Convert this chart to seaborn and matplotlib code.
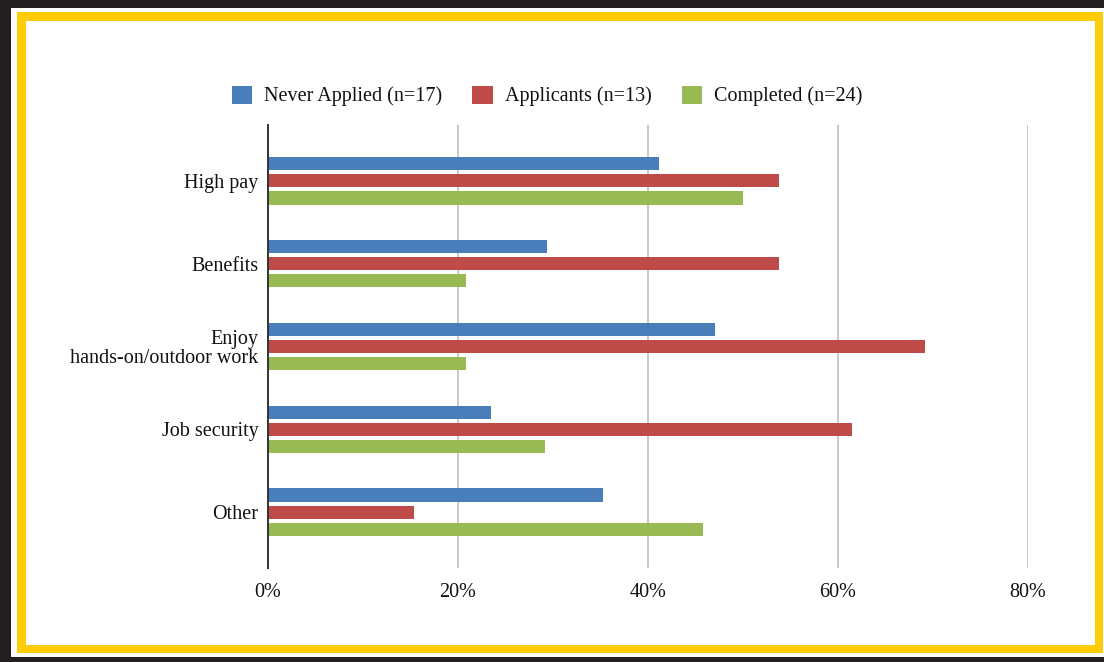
"""
Reasons for interest - horizontal grouped bar chart
"""

import pandas as pd
import matplotlib
matplotlib.use('Agg')
import matplotlib.pyplot as plt
from matplotlib.patches import Rectangle
from matplotlib.ticker import PercentFormatter
import seaborn as sns

# Data (share of respondents, %)
reasons = ['High pay', 'Benefits', 'Enjoy\nhands-on/outdoor work', 'Job security', 'Other']
groups = ['Never Applied (n=17)', 'Applicants (n=13)', 'Completed (n=24)']
never_applied = [41.2, 29.4, 47.1, 23.5, 35.3]
applicants = [53.8, 53.8, 69.2, 61.5, 15.4]
completed = [50.0, 20.8, 20.8, 29.2, 45.8]
colors = ['#4A7EBB', '#BE4B48', '#98B954']

df = pd.DataFrame({
    'Reason': reasons * 3,
    'Group': [g for g in groups for _ in reasons],
    'Share': never_applied + applicants + completed,
})

sns.set_theme(style='white')
plt.rcParams['font.family'] = ['Liberation Serif', 'DejaVu Serif']
plt.rcParams['font.size'] = 14.5

W, H = 1104, 662
fig = plt.figure(figsize=(W / 100, H / 100), dpi=100, facecolor='#231F20')


def px_rect(x0, y0, x1, y1, color):
    # pixel box, y measured from the top
    fig.add_artist(Rectangle((x0 / W, 1 - y1 / H), (x1 - x0) / W, (y1 - y0) / H,
                             transform=fig.transFigure, facecolor=color,
                             edgecolor='none', zorder=-10))


# frame: white line, yellow border, white card
px_rect(11, 8, W, 657, '#FFFFFF')
px_rect(17, 12, 1103, 653, '#FFCC0A')
px_rect(26, 21, 1095, 645, '#FFFFFF')

ax = fig.add_axes([268 / W, 1 - 568 / H, (1028 - 268) / W, (568 - 125) / H])
ax.set_facecolor('none')

sns.barplot(data=df, y='Reason', x='Share', hue='Group', orient='h',
            palette=colors, width=0.62, gap=0.23, saturation=1,
            edgecolor='none', ax=ax)

ax.set_xlim(0, 80)
ax.set_ylim(4.675, -0.675)
ax.set_xticks([0, 20, 40, 60, 80])
ax.xaxis.set_major_formatter(PercentFormatter(decimals=0))
ax.grid(axis='x', color='#C8C8C8', linewidth=1.4)
ax.grid(axis='y', visible=False)
ax.set_axisbelow(True)
ax.set_xlabel('')
ax.set_ylabel('')
for side in ['top', 'right', 'bottom']:
    ax.spines[side].set_visible(False)
ax.spines['left'].set_color('#333333')
ax.spines['left'].set_linewidth(1.4)
ax.tick_params(axis='y', length=0, pad=7, labelsize=14.5, labelcolor='#111111')
ax.tick_params(axis='x', length=0, pad=11, labelsize=14.5, labelcolor='#111111')
for lbl in ax.get_yticklabels():
    lbl.set_multialignment('right')
    lbl.set_linespacing(1.0)

ax.get_legend().remove()
handles = [Rectangle((0, 0), 1, 1, facecolor=c, edgecolor='none') for c in colors]
fig.legend(handles, groups, loc='center', bbox_to_anchor=(547 / W, 1 - 96 / H),
           ncol=3, frameon=False, fontsize=14.5, handlelength=1.0, handleheight=1.0,
           handletextpad=0.6, columnspacing=1.5, labelcolor='#111111')

plt.savefig('out.png', dpi=100, facecolor=fig.get_facecolor())
plt.close()
